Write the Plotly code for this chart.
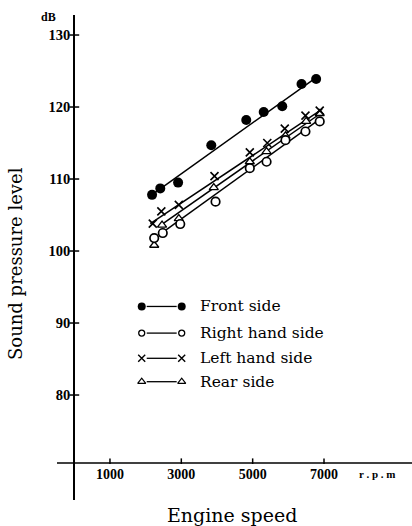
import plotly.graph_objects as go

# Measured sound pressure level against engine speed, four microphone positions
front_rpm = [2180, 2410, 2910, 3840, 4820, 5310, 5830, 6370, 6780]
front_db = [107.8, 108.7, 109.5, 114.7, 118.2, 119.3, 120.1, 123.2, 123.9]

right_rpm = [2240, 2480, 2970, 3960, 4920, 5390, 5920, 6480, 6880]
right_db = [101.8, 102.5, 103.75, 106.85, 111.5, 112.4, 115.4, 116.6, 118.0]

left_rpm = [2200, 2440, 2930, 3930, 4920, 5410, 5900, 6480, 6880]
left_db = [103.8, 105.5, 106.4, 110.4, 113.7, 115.0, 117.0, 118.8, 119.5]

rear_rpm = [2240, 2460, 2930, 3910, 4920, 5390, 5920, 6500, 6880]
rear_db = [100.8, 103.6, 104.5, 108.8, 112.4, 113.8, 116.0, 118.0, 119.1]

# End points of the straight trend lines through each series
front_fit_rpm = [2085, 6808]
front_fit_db = [107.5, 124.2]
left_fit_rpm = [2130, 6950]
left_fit_db = [103.8, 119.7]
rear_fit_rpm = [2365, 6900]
rear_fit_db = [103.4, 119.1]
right_fit_rpm = [2505, 6853]
right_fit_db = [102.7, 118.2]

x_ticks = [1000, 3000, 5000, 7000]
y_ticks = [80, 90, 100, 110, 120, 130]

series_names = ["Front side", "Right hand side", "Left hand side", "Rear side"]

X_RANGE = [-485, 9467]
Y_RANGE = [65.42, 132.78]
X_AXIS_DB = 70.56

SERIF = "DejaVu Serif"
BOLD = "Liberation Serif"

styles = {
    "Front side": dict(symbol="circle", size=10, color="black",
                       line=dict(color="black", width=0)),
    "Right hand side": dict(symbol="circle", size=8.5, color="white",
                            line=dict(color="black", width=1.7)),
    "Left hand side": dict(symbol="x-thin", size=8, color="black",
                           line=dict(color="black", width=1.6)),
    "Rear side": dict(symbol="triangle-up", size=8, color="white",
                      line=dict(color="black", width=1.3)),
}
legend_styles = {
    "Front side": dict(symbol="circle", size=8, color="black",
                       line=dict(color="black", width=0)),
    "Right hand side": dict(symbol="circle", size=6, color="white",
                            line=dict(color="black", width=1.3)),
    "Left hand side": dict(symbol="x-thin", size=7, color="black",
                           line=dict(color="black", width=1.4)),
    "Rear side": dict(symbol="triangle-up", size=7, color="white",
                      line=dict(color="black", width=1.2)),
}

fig = go.Figure()

line_style = dict(color="black", width=1.5)
for fx, fy in [(front_fit_rpm, front_fit_db), (left_fit_rpm, left_fit_db),
               (rear_fit_rpm, rear_fit_db), (right_fit_rpm, right_fit_db)]:
    fig.add_trace(go.Scatter(x=fx, y=fy, mode="lines", line=line_style,
                             showlegend=False, hoverinfo="skip"))

for name, xs, ys in [("Rear side", rear_rpm, rear_db),
                     ("Right hand side", right_rpm, right_db),
                     ("Left hand side", left_rpm, left_db),
                     ("Front side", front_rpm, front_db)]:
    fig.add_trace(go.Scatter(x=xs, y=ys, mode="markers", name=name,
                             marker=styles[name], showlegend=False))

# x axis line at its crossing level and cross-shaped y ticks on the y axis
fig.add_trace(go.Scatter(x=X_RANGE, y=[X_AXIS_DB, X_AXIS_DB], mode="lines",
                         line=dict(color="black", width=1.5),
                         showlegend=False, hoverinfo="skip"))
fig.add_trace(go.Scatter(x=[0] * len(y_ticks), y=y_ticks, mode="markers",
                         marker=dict(symbol="line-ew", size=7,
                                     line=dict(color="black", width=1.5)),
                         showlegend=False, hoverinfo="skip"))
fig.add_trace(go.Scatter(x=x_ticks, y=[X_AXIS_DB + 0.25] * len(x_ticks),
                         mode="markers",
                         marker=dict(symbol="line-ns", size=4,
                                     line=dict(color="black", width=1.5)),
                         showlegend=False, hoverinfo="skip"))

# Key drawn inside the plot: marker, dash, marker, label
key_x0, key_x1 = 1890, 3011
key_line = [2030, 2870]
key_rows = [92.3, 88.6, 85.1, 81.85]
for name, ky in zip(series_names, key_rows):
    fig.add_trace(go.Scatter(x=key_line, y=[ky, ky], mode="lines",
                             line=dict(color="black", width=1.3),
                             showlegend=False, hoverinfo="skip"))
    fig.add_trace(go.Scatter(x=[key_x0, key_x1], y=[ky, ky], mode="markers",
                             marker=legend_styles[name],
                             showlegend=False, hoverinfo="skip"))
    fig.add_annotation(x=3470, y=ky, text=name, showarrow=False,
                       xanchor="left", yanchor="middle",
                       font=dict(family=SERIF, size=15.5, color="black"))

fig.add_annotation(x=8490, y=X_AXIS_DB, text="<b>r . p . m</b>", showarrow=False,
                   xanchor="center", yanchor="top", yshift=-3,
                   font=dict(family=BOLD, size=11, color="black"))
fig.add_annotation(x=0, y=132.5, text="<b>dB</b>", showarrow=False,
                   xanchor="right", yanchor="middle", xshift=-16,
                   font=dict(family=BOLD, size=12, color="black"))

fig.add_annotation(xref="paper", yref="paper", x=-0.115, y=0.487,
                   text="Sound pressure level", textangle=-90,
                   showarrow=False, xanchor="center", yanchor="middle",
                   font=dict(family=SERIF, size=18, color="black"))
fig.add_annotation(xref="paper", yref="paper", x=0.494, y=-0.031,
                   text="Engine speed", showarrow=False,
                   xanchor="center", yanchor="middle",
                   font=dict(family=SERIF, size=19, color="black"))

fig.update_layout(
    width=412, height=526,
    margin=dict(l=57, r=0, t=15, b=26),
    paper_bgcolor="white", plot_bgcolor="white",
    xaxis=dict(range=X_RANGE, showgrid=False, zeroline=True,
               zerolinecolor="black", zerolinewidth=2,
               tickvals=x_ticks, ticktext=[f"<b>{v}</b>" for v in x_ticks],
               ticks="", showline=False,
               anchor="free", position=(X_AXIS_DB - Y_RANGE[0]) / (Y_RANGE[1] - Y_RANGE[0]),
               tickfont=dict(family=BOLD, size=14, color="black"),
               ticklabelstandoff=1),
    yaxis=dict(range=Y_RANGE, showgrid=False, zeroline=False,
               tickvals=y_ticks, ticktext=[f"<b>{v}</b>" for v in y_ticks],
               ticks="", showline=False,
               anchor="free", position=-X_RANGE[0] / (X_RANGE[1] - X_RANGE[0]),
               tickfont=dict(family=BOLD, size=14.5, color="black"),
               ticklabelstandoff=4),
    showlegend=False,
)

fig.write_html("out.html")
